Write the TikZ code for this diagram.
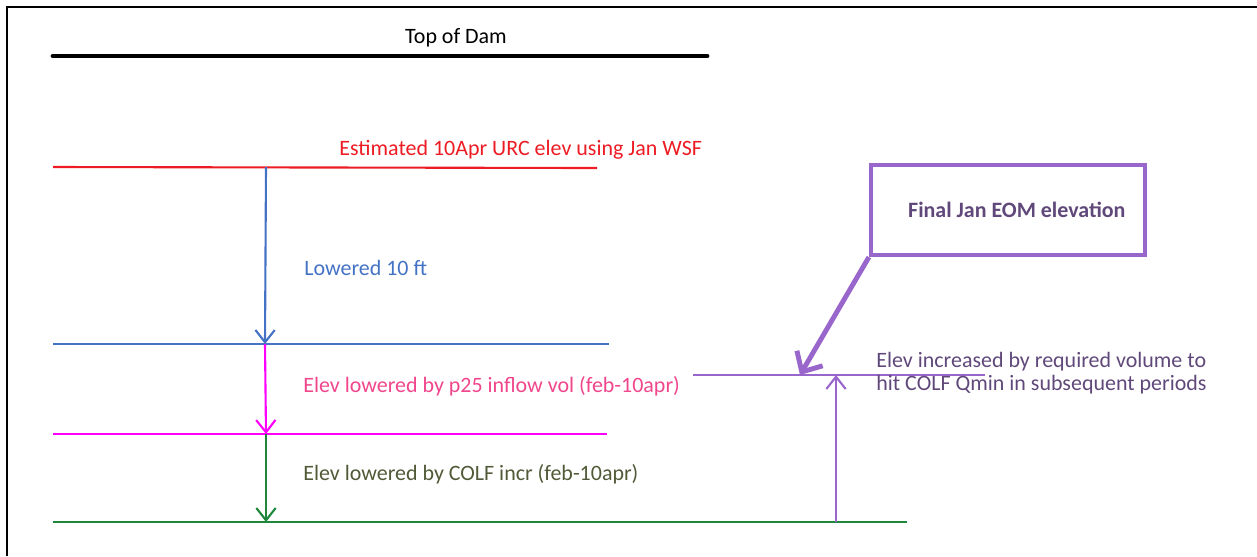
\documentclass[tikz,border=0pt]{standalone}
\usepackage{fontspec}
\setmainfont{Carlito}
\usetikzlibrary{arrows.meta}

\definecolor{levred}{RGB}{237,28,36}
\definecolor{levblue}{RGB}{68,114,196}
\definecolor{levpink}{RGB}{255,0,255}
\definecolor{levgreen}{RGB}{30,135,60}
\definecolor{levpurple}{RGB}{153,102,204}
\definecolor{txtpink}{RGB}{240,70,140}
\definecolor{txtgreen}{RGB}{80,90,55}
\definecolor{txtpurple}{RGB}{96,73,122}

\tikzset{
  level/.style={line width=1.2pt},
  drop/.style={line width=1.2pt, -{Straight Barb[length=7pt,width=11pt,line width=1.2pt]}},
  lbl/.style={anchor=west, inner sep=0pt, font=\fontsize{12.5}{15}\selectfont}
}

\begin{document}
\begin{tikzpicture}[x=0.02cm, y=-0.02cm]
  \useasboundingbox (0,0) rectangle (1257,556);
  % frame
  \draw[line width=1.6pt] (7,556) -- (7,7) -- (1257,7);

  % top of dam
  \coordinate (dam-l) at (53,56);
  \coordinate (dam-r) at (707,56);
  \draw[line width=2.8pt, line cap=round] (dam-l) -- (dam-r);
  \node[lbl, anchor=center] (dam) at (456,38) {Top of Dam};

  % levels
  \coordinate (red-l) at (53,167);   \coordinate (red-r) at (597,168);
  \coordinate (blue-l) at (53,344);  \coordinate (blue-r) at (609,344);
  \coordinate (pink-l) at (53,434);  \coordinate (pink-r) at (607,434);
  \coordinate (green-l) at (53,522); \coordinate (green-r) at (907,522);
  \draw[level, levred] (red-l) -- (red-r);
  \draw[level, levblue] (blue-l) -- (blue-r);
  \draw[level, levpink] (pink-l) -- (pink-r);
  \draw[level, levgreen] (green-l) -- (green-r);

  % drops between levels
  \coordinate (red-a) at (266,167);
  \coordinate (blue-a) at (265,344);
  \coordinate (pink-a) at (266,434);
  \coordinate (green-a) at (266,522);
  \draw[drop, levblue] (red-a) -- (blue-a);
  \draw[drop, levpink] (blue-a) -- (pink-a);
  \draw[drop, levgreen] (pink-a) -- (green-a);

  \node[lbl, levred] (est) at (339,150) {Estimated 10Apr URC elev using Jan WSF};
  \node[lbl, levblue] (low) at (304,268) {Lowered 10 ft};
  \node[lbl, txtpink] (p25) at (303,386) {Elev lowered by p25 inflow vol (feb-10apr)};
  \node[lbl, txtgreen] (colf) at (303,474) {Elev lowered by COLF incr (feb-10apr)};

  % final elevation
  \coordinate (eom-l) at (693,375);
  \coordinate (eom-r) at (985,375);
  \coordinate (eom-a) at (836,375);
  \coordinate (eom-b) at (836,522);
  \coordinate (eom-t) at (800,375);
  \draw[level, levpurple] (eom-l) -- (eom-r);
  \draw[drop, levpurple] (eom-b) -- (eom-a);

  \node[draw=levpurple, line width=2.4pt, minimum width=274*0.02cm, minimum height=90*0.02cm,
        font=\fontsize{12.5}{15}\selectfont\bfseries, text=txtpurple] (box) at (1008,210) {\hspace*{10pt}Final Jan EOM elevation};
  \draw[levpurple, line width=2.8pt, -{Straight Barb[length=9pt,width=17pt,line width=2.8pt]}]
    (box.south west) -- (eom-t);

  \node[lbl, txtpurple, anchor=north west, align=left, font=\fontsize{12.5}{13}\selectfont] (incr) at (876,352)
    {Elev increased by required volume to\\hit COLF Qmin in subsequent periods};
\end{tikzpicture}
\end{document}
